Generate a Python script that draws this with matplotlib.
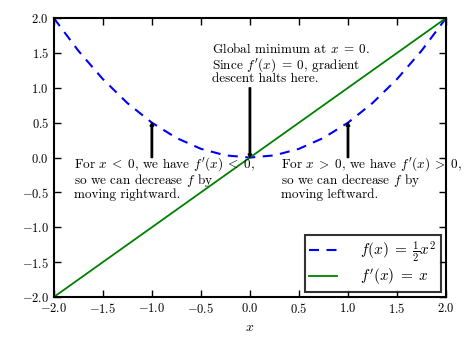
import matplotlib
matplotlib.use('Agg')
import matplotlib.pyplot as plt

# classic-looking, Computer Modern style text
plt.rcParams['font.family'] = 'serif'
plt.rcParams['font.serif'] = ['cmr10']
plt.rcParams['mathtext.fontset'] = 'cm'
plt.rcParams['axes.formatter.use_mathtext'] = True
plt.rcParams['axes.unicode_minus'] = True

# values
x_vals = [-2.0, -1.75, -1.5, -1.25, -1.0, -0.75, -0.5, -0.25, 0.0,
          0.25, 0.5, 0.75, 1.0, 1.25, 1.5, 1.75, 2.0]
f_vals = [2.0, 1.53125, 1.125, 0.78125, 0.5, 0.28125, 0.125, 0.03125, 0.0,
          0.03125, 0.125, 0.28125, 0.5, 0.78125, 1.125, 1.53125, 2.0]
df_vals = [-2.0, -1.75, -1.5, -1.25, -1.0, -0.75, -0.5, -0.25, 0.0,
           0.25, 0.5, 0.75, 1.0, 1.25, 1.5, 1.75, 2.0]
ticks = [-2.0, -1.5, -1.0, -0.5, 0.0, 0.5, 1.0, 1.5, 2.0]

notes = [
    (r'For $x\;<\;0$, we have $f^{\prime}(x)\;<\;0$,' '\n'
     r'so we can decrease $f$ by' '\n' 'moving rightward.', (-1.0, 0.5), (-1.79, 0.04)),
    (r'Global minimum at $x\;=\;0$.' '\n'
     r'Since $f^{\prime}(x)\;=\;0$, gradient' '\n' 'descent halts here.', (0.0, 0.0), (-0.39, 1.65)),
    (r'For $x\;>\;0$, we have $f^{\prime}(x)\;>\;0$,' '\n'
     r'so we can decrease $f$ by' '\n' 'moving leftward.', (1.0, 0.5), (0.32, 0.04)),
]
arrow_from = [(-1.0, 0.0), (0.0, 1.0), (1.0, 0.0)]

fig = plt.figure(figsize=(4.72, 3.41), dpi=100)
ax = fig.add_axes([0.114, 0.129, 0.831, 0.818])

ax.plot(x_vals, f_vals, color='blue', linestyle='--', dashes=(4.8, 3.6), linewidth=1.5,
        label=r'$f(x)\;=\;\frac{1}{2}x^2$')
ax.plot(x_vals, df_vals, color='green', linewidth=1.3, label=r"$f^{\prime}(x)\;=\;x$")

for (txt, xy, txy), start in zip(notes, arrow_from):
    ax.text(txy[0], txy[1], txt, fontsize=9.5, va='top', ha='left', linespacing=0.95)
    ax.annotate('', xy=xy, xytext=start,
                arrowprops=dict(facecolor='black', edgecolor='black', width=1.0,
                                headwidth=2.5, headlength=2.5, shrink=0.0))

ax.set_xlim(-2, 2)
ax.set_ylim(-2, 2)
ax.set_xticks(ticks)
ax.set_yticks(ticks)
ax.set_xlabel(r'$x$', fontsize=10)
ax.tick_params(direction='in', top=True, right=True, length=5, width=1, labelsize=9)
for sp in ax.spines.values():
    sp.set_linewidth(1.5)

leg = ax.legend(loc='lower right', fontsize=11, fancybox=False, handlelength=1.8,
                borderpad=0.3, labelspacing=0.2, handletextpad=1.5,
                borderaxespad=0.35)
leg.get_frame().set_edgecolor('black')
leg.get_frame().set_linewidth(1.5)

fig.savefig('out.png', dpi=100)
